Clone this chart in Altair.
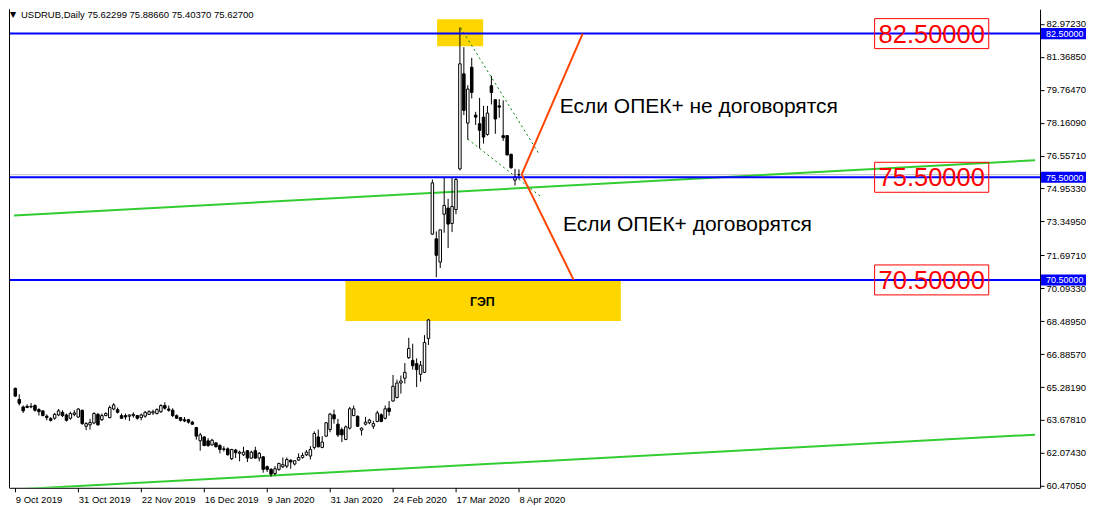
import altair as alt
import pandas as pd

# ---- candles (USDRUB daily, 9 Oct 2019 .. 8 Apr 2020) ----
opens = [65.22, 64.68, 64.31, 64.34, 64.31, 64.38, 64.18, 64.12, 63.86, 63.74,
         63.76, 63.92, 64.05, 63.92, 63.76, 63.95, 63.82, 64.15, 63.37, 63.44,
         63.53, 63.95, 63.69, 63.89, 63.79, 64.21, 64.18, 63.89, 63.89, 63.86,
         63.89, 63.89, 63.79, 63.86, 63.95, 64.02, 63.99, 64.08, 64.38, 64.21,
         64.15, 63.89, 63.79, 63.69, 63.69, 63.57, 63.31, 62.66, 62.85, 62.66,
         62.46, 62.56, 62.43, 62.27, 62.27, 61.79, 62.21, 62.05, 61.98, 62.18,
         61.82, 62.18, 61.82, 61.88, 61.40, 61.27, 61.07, 61.27, 61.40, 61.43,
         61.72, 61.53, 61.72, 61.85, 61.98, 61.92, 62.34, 62.85, 62.34, 62.89,
         63.21, 63.93, 63.47, 63.21, 62.73, 63.28, 63.89, 63.86, 63.18, 63.47,
         63.54, 63.37, 63.60, 63.93, 63.76, 64.25, 64.60, 64.77, 65.48, 65.71,
         66.71, 66.58, 66.42, 65.90, 66.00, 67.65, 72.73, 72.50, 71.37, 73.70,
         74.00, 73.25, 73.93, 75.91, 80.54, 78.14, 80.86, 78.53, 78.11, 78.43,
         77.59, 79.96, 79.28, 78.98, 77.53, 77.53, 76.62, 75.36, 75.62299]
highs = [65.25, 64.93, 64.38, 64.44, 64.50, 64.44, 64.25, 64.15, 63.95, 63.82,
         64.02, 64.21, 64.15, 63.99, 64.08, 64.15, 64.25, 64.18, 63.57, 63.73,
         64.05, 64.02, 63.99, 64.05, 64.38, 64.50, 64.28, 63.99, 63.99, 63.95,
         64.05, 63.92, 63.99, 64.12, 64.15, 64.18, 64.25, 64.44, 64.54, 64.38,
         64.25, 63.95, 63.82, 63.82, 63.73, 63.63, 63.34, 63.05, 62.89, 62.79,
         62.76, 62.59, 62.50, 62.40, 62.34, 62.27, 62.27, 62.18, 62.37, 62.21,
         62.18, 62.37, 62.11, 61.92, 61.46, 61.33, 61.43, 61.59, 61.85, 61.85,
         61.75, 61.72, 62.05, 62.08, 62.21, 62.40, 63.12, 63.21, 62.89, 63.57,
         64.02, 64.18, 63.73, 63.31, 63.41, 64.31, 64.38, 63.89, 63.31, 63.83,
         63.73, 63.63, 64.12, 64.00, 64.38, 64.60, 65.87, 65.64, 65.84, 66.45,
         67.68, 67.39, 66.68, 66.55, 67.81, 68.60, 75.39, 72.86, 72.94, 75.49,
         74.45, 75.49, 75.49, 82.80, 81.84, 79.99, 81.32, 78.69, 79.37, 78.98,
         78.98, 80.44, 79.28, 79.31, 79.25, 77.56, 76.65, 75.91, 75.8866]
lows = [64.80, 64.38, 64.02, 64.25, 64.25, 64.08, 63.89, 63.86, 63.66, 63.60,
        63.69, 63.86, 63.82, 63.60, 63.69, 63.86, 63.79, 63.44, 63.18, 63.21,
        63.47, 63.40, 63.63, 63.86, 63.76, 64.15, 63.99, 63.73, 63.69, 63.63,
        63.79, 63.69, 63.66, 63.79, 63.92, 63.92, 63.95, 64.02, 64.18, 64.08,
        63.82, 63.73, 63.60, 63.57, 63.50, 63.44, 62.72, 62.18, 62.40, 62.37,
        62.43, 62.34, 62.05, 62.14, 61.95, 61.72, 61.82, 61.66, 61.92, 61.63,
        61.79, 61.79, 61.66, 61.11, 61.14, 60.91, 60.97, 61.20, 61.33, 61.33,
        61.30, 61.46, 61.69, 61.79, 61.92, 61.75, 62.24, 62.34, 62.30, 62.85,
        63.08, 63.50, 62.85, 62.60, 62.69, 63.21, 63.86, 63.34, 62.92, 63.41,
        63.47, 63.24, 63.57, 63.57, 63.70, 63.89, 64.57, 64.73, 64.96, 65.45,
        66.65, 66.13, 65.28, 65.54, 65.96, 67.33, 72.70, 70.63, 71.08, 72.80,
        72.05, 72.83, 73.70, 75.84, 78.53, 77.33, 79.34, 78.05, 76.91, 77.14,
        77.53, 79.05, 77.62, 78.40, 77.27, 76.56, 75.91, 75.10, 75.4037]
closes = [64.84, 64.49, 64.12, 64.29, 64.34, 64.15, 64.08, 63.89, 63.79, 63.66,
          63.95, 64.12, 63.89, 63.66, 63.99, 64.02, 64.21, 63.50, 63.50, 63.55,
          63.99, 63.44, 63.89, 63.99, 64.28, 64.41, 64.05, 63.76, 63.82, 63.92,
          63.95, 63.76, 63.92, 64.05, 64.08, 64.08, 64.18, 64.38, 64.25, 64.15,
          63.89, 63.76, 63.66, 63.63, 63.57, 63.47, 62.89, 62.95, 62.43, 62.43,
          62.69, 62.37, 62.24, 62.24, 61.98, 62.24, 62.08, 62.11, 62.11, 61.82,
          62.11, 61.82, 62.05, 61.27, 61.27, 61.04, 61.30, 61.56, 61.50, 61.75,
          61.63, 61.69, 61.85, 61.95, 62.11, 62.24, 63.02, 62.37, 62.60, 63.54,
          63.96, 63.73, 62.95, 62.95, 63.34, 64.22, 64.22, 63.37, 63.28, 63.57,
          63.67, 63.50, 64.02, 63.60, 64.22, 64.09, 65.32, 65.48, 65.58, 66.00,
          67.16, 66.32, 66.13, 66.35, 67.45, 68.55, 75.23, 71.70, 72.94, 74.13,
          73.22, 74.08, 75.39, 81.03, 78.76, 79.80, 79.63, 78.43, 77.79, 77.46,
          78.63, 79.63, 78.34, 78.92, 77.43, 76.59, 75.97, 75.52, 75.627]

date_ticks = [0, 16, 32, 48, 64, 80, 96, 112, 128]
date_labels = ["9 Oct 2019", "31 Oct 2019", "22 Nov 2019", "16 Dec 2019", "9 Jan 2020",
               "31 Jan 2020", "24 Feb 2020", "17 Mar 2020", "8 Apr 2020"]
price_ticks = [82.9723, 81.3685, 79.7647, 78.1609, 76.5571, 74.9533, 73.3495, 71.6971,
               70.0933, 68.4895, 66.8857, 65.2819, 63.6781, 62.0743, 60.4705]
levels = [82.5, 75.5, 70.5]
level_labels = ["82.50000", "75.50000", "70.50000"]
last_price = 75.627

# trend lines (bar index, price)
green_x1 = [-0.3325, -0.3325]; green_y1 = [73.64, 60.29]
green_x2 = [259.17, 259.17];   green_y2 = [76.33, 62.96]
dot_x1 = [113.2, 115.0]; dot_y1 = [82.78, 77.36]
dot_x2 = [133.3, 133.5]; dot_y2 = [76.58, 74.57]
red_x1 = [128.7, 128.7]; red_y1 = [75.64, 75.64]
red_x2 = [144.2, 141.9]; red_y2 = [82.5, 70.5]

# highlighted zones
zone_x1 = [107.2, 83.9]; zone_x2 = [118.9, 153.9]
zone_y1 = [81.89, 68.50]; zone_y2 = [83.20, 70.50]
gap_label = "ГЭП"
gap_x = 118.7; gap_y = 69.42
box_x1 = 218.4; box_x2 = 247.4; box_half = 0.73

notes = ["Если ОПЕК+ не договорятся", "Если ОПЕК+ договорятся"]
note_x = [138.4, 139.2]
note_y = [78.92, 73.17]
header = "USDRUB,Daily  75.62299 75.88660 75.40370 75.62700"

W, H = 1032, 479
FONT = "Liberation Sans"
AX_FS = 9.5

xs = alt.Scale(domain=[-0.3325, 259.17], nice=False, zero=False)
ys = alt.Scale(domain=[60.373, 83.688], nice=False, zero=False)

label_arr = "[" + ",".join("'%s'" % d for d in date_labels) + "]"
xaxis = alt.Axis(values=date_ticks, labelExpr=label_arr + "[round(datum.value/16)]",
                 labelAlign="left", labelPadding=3, tickSize=4, tickColor="black",
                 domainColor="black", labelColor="black", labelFont=FONT, labelFontSize=AX_FS,
                 grid=False, title=None, labelFlush=False, labelOverlap=False)
yaxis = alt.Axis(orient="right", values=price_ticks, format=".5f", tickSize=4, labelPadding=2,
                 tickColor="black", domainColor="black", labelColor="black", labelFont=FONT,
                 labelFontSize=AX_FS, grid=False, title=None, labelFlush=False,
                 labelOverlap=False)


def X(f):
    return alt.X(f, scale=xs, axis=xaxis)


def Y(f):
    return alt.Y(f, scale=ys, axis=yaxis)


cand = pd.DataFrame({"i": list(range(len(opens))), "open": opens, "high": highs,
                     "low": lows, "close": closes})
cand["fillc"] = ["white" if c >= o else "black" for o, c in zip(opens, closes)]

zones = pd.DataFrame({"x1": zone_x1, "x2": zone_x2, "y1": zone_y1, "y2": zone_y2})
zone_layer = alt.Chart(zones).mark_rect(color="#FFD700").encode(
    x=X("x1:Q"), x2="x2:Q", y=Y("y1:Q"), y2="y2:Q")

wicks = alt.Chart(cand).mark_rule(color="black", strokeWidth=1).encode(
    x=X("i:Q"), y=Y("low:Q"), y2="high:Q")
bodies = alt.Chart(cand).mark_bar(size=2.5, stroke="black", strokeWidth=1).encode(
    x=X("i:Q"), y=Y("open:Q"), y2="close:Q", fill=alt.Fill("fillc:N", scale=None))


def seg(x1, y1, x2, y2):
    return pd.DataFrame({"x1": x1, "y1": y1, "x2": x2, "y2": y2})


green = alt.Chart(seg(green_x1, green_y1, green_x2, green_y2)).mark_rule(
    color="#32CD32", strokeWidth=2, clip=True).encode(
    x=X("x1:Q"), y=Y("y1:Q"), x2="x2:Q", y2="y2:Q")
dots = alt.Chart(seg(dot_x1, dot_y1, dot_x2, dot_y2)).mark_rule(
    color="#008000", strokeWidth=1, strokeDash=[2, 3], clip=True).encode(
    x=X("x1:Q"), y=Y("y1:Q"), x2="x2:Q", y2="y2:Q")
reds = alt.Chart(seg(red_x1, red_y1, red_x2, red_y2)).mark_rule(
    color="#FF4500", strokeWidth=2, clip=True).encode(
    x=X("x1:Q"), y=Y("y1:Q"), x2="x2:Q", y2="y2:Q")

lev = pd.DataFrame({"level": levels, "label": level_labels})
blue = alt.Chart(lev).mark_rule(color="#0000FF", strokeWidth=2).encode(y=Y("level:Q"))
bid = alt.Chart(pd.DataFrame({"p": [last_price]})).mark_rule(
    color="#C0C0C0", strokeWidth=1).encode(y=Y("p:Q"))

boxes = alt.Chart(lev).transform_calculate(
    lo="datum.level - %f" % box_half, hi="datum.level + %f" % box_half,
    bx1="%f" % box_x1, bx2="%f" % box_x2, bxm="%f" % ((box_x1 + box_x2) / 2))
box_rect = boxes.mark_rect(fill=None, stroke="#FF0000", strokeWidth=1).encode(
    x=X("bx1:Q"), x2="bx2:Q", y=Y("lo:Q"), y2="hi:Q")
box_text = boxes.mark_text(color="#FF0000", font=FONT, fontSize=25.5, align="center",
                           baseline="middle", dy=1).encode(
    x=X("bxm:Q"), y=Y("level:Q"), text="label:N")

tag = alt.Chart(lev).transform_calculate(lo="datum.level - 0.27", hi="datum.level + 0.27")
tag_rect = tag.mark_rect(color="#0000FF").encode(
    x=alt.value(W + 1), x2=alt.value(W + 46), y=Y("lo:Q"), y2="hi:Q")
tag_text = tag.mark_text(color="white", font=FONT, fontSize=9, align="left",
                         baseline="middle", dy=0.5).encode(
    x=alt.value(W + 6), y=Y("level:Q"), text="label:N")

notes_df = pd.DataFrame({"x": note_x, "y": note_y, "t": notes})
note_layer = alt.Chart(notes_df).mark_text(font=FONT, fontSize=21, align="left",
                                           baseline="middle", color="black").encode(
    x=X("x:Q"), y=Y("y:Q"), text="t:N")

gap_layer = alt.Chart(pd.DataFrame({"x": [gap_x], "y": [gap_y], "t": [gap_label]})).mark_text(
    font=FONT, fontSize=12.5, fontWeight="bold", align="center", baseline="middle",
    color="black").encode(x=X("x:Q"), y=Y("y:Q"), text="t:N")

head_df = pd.DataFrame({"t": [header], "m": ["▼"]})
head_tri = alt.Chart(head_df).mark_text(font="DejaVu Sans", fontSize=8, align="left",
                                        baseline="middle", color="black").encode(
    x=alt.value(1), y=alt.value(6), text="m:N")
head_txt = alt.Chart(head_df).mark_text(font=FONT, fontSize=9.5, align="left",
                                        baseline="middle", color="black").encode(
    x=alt.value(12), y=alt.value(6), text="t:N")

left_border = alt.Chart(pd.DataFrame({"a": [0]})).mark_rule(color="black", strokeWidth=1).encode(
    x=alt.value(0.5), y=alt.value(0), y2=alt.value(H))

chart = alt.layer(
    zone_layer, bid, green, dots, wicks, bodies, blue, reds, box_rect, box_text,
    note_layer, gap_layer, tag_rect, tag_text, head_tri, head_txt, left_border
).properties(width=W, height=H, padding=0, background="white").configure_view(stroke=None)

chart.save("out.html", embed_options={"renderer": "svg", "actions": False})
